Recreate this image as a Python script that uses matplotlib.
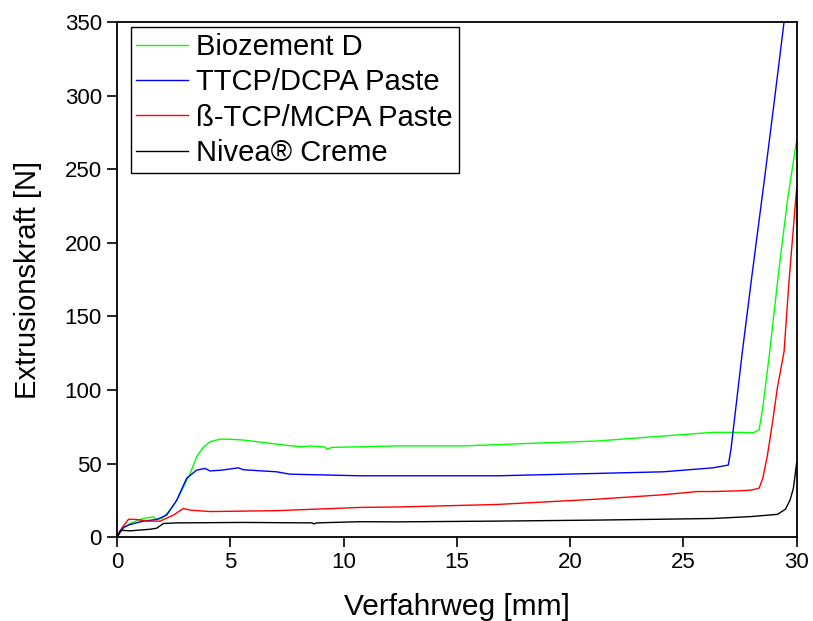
import matplotlib
matplotlib.use('Agg')
import matplotlib.pyplot as plt

plt.rcParams['font.family'] = ['Liberation Sans', 'DejaVu Sans']

# Biozement D
green_x = [0, 0.28, 0.57, 1.16, 1.6, 1.75, 2.0, 2.34, 2.63, 2.93, 3.22, 3.51, 3.8, 4.1, 4.54, 5.0,
           5.57, 7.04, 8.07, 8.51, 9.2, 9.25, 9.32, 9.5, 10.72, 12.35, 15.3, 18.2, 21.17, 24.1,
           26.3, 27.5, 28.1, 28.34, 28.5, 28.8, 29.2, 29.6, 30.0]
green_y = [1.6, 6, 9.3, 12.7, 13.8, 12, 13, 18.4, 25, 34, 43, 54.6, 61, 64.8, 66.6, 66.5,
           66, 63.2, 61.4, 61.9, 61.2, 59.6, 60.2, 61, 61.4, 62, 62, 63.7, 65.3, 68.7,
           71.2, 71.2, 71, 73, 88, 125, 180, 230, 270]

# TTCP/DCPA Paste
blue_x = [0, 0.28, 0.57, 1.16, 1.75, 2.19, 2.63, 3.07, 3.51, 3.88, 4.1, 4.6, 5.35, 5.57, 7.04,
          7.63, 10.72, 12.35, 16.8, 21.17, 24.1, 26.3, 26.98, 27.1, 27.6, 28.0, 28.59, 29.0,
          29.44, 29.5]
blue_y = [0, 6.6, 8.6, 10.9, 12, 15, 25, 40, 45.5, 46.7, 45, 45.5, 47.1, 45.8, 44.4,
          42.8, 41.7, 41.7, 41.7, 43.3, 44.4, 47.1, 49, 60, 126, 175, 245, 295,
          350, 357]

# ß-TCP/MCPA Paste
red_x = [0, 0.2, 0.51, 0.88, 1.32, 1.9, 2.49, 2.93, 3.22, 4.1, 7.04, 10.72, 12.35, 16.76,
         21.17, 24.1, 25.6, 26.3, 27.5, 28.0, 28.34, 28.5, 28.7, 28.93, 29.15, 29.44, 29.66, 30.0]
red_y = [0, 6, 12.2, 12, 10.9, 10.9, 15, 19.5, 18.4, 17.4, 18, 20.2, 20.5, 22.2,
         25.8, 28.8, 31, 31, 31.5, 32, 33.3, 40, 55, 78, 102, 126, 174, 238]

# Nivea Creme
black_x = [0, 0.15, 0.57, 1.47, 1.75, 2.05, 2.63, 5.57, 8.6, 8.7, 8.8, 10.72, 12.35, 16.76,
           21.17, 24.1, 26.3, 28.0, 29.15, 29.5, 29.7, 29.85, 30.0]
black_y = [0, 4.7, 4.3, 5.4, 6.1, 9.3, 9.7, 10, 9.7, 9.0, 9.7, 10.5, 10.4, 10.9,
           11.6, 12.2, 12.7, 14, 15.5, 19, 25, 33, 51]

fig = plt.figure(figsize=(8.13, 6.21), dpi=100)
ax = fig.add_axes([0.144, 0.135, 0.836, 0.8296])

ax.plot(green_x, green_y, color='#00ff00', lw=1, label='Biozement D')
ax.plot(blue_x, blue_y, color='#0000ff', lw=1, label='TTCP/DCPA Paste')
ax.plot(red_x, red_y, color='#ff0000', lw=1, label='ß-TCP/MCPA Paste')
ax.plot(black_x, black_y, color='black', lw=1, label='Nivea® Creme')

ax.set_xlim(0, 30)
ax.set_ylim(0, 350)
ax.set_xticks([0, 5, 10, 15, 20, 25, 30])
ax.set_yticks([0, 50, 100, 150, 200, 250, 300, 350])
ax.tick_params(direction='out', length=7, width=1.2, labelsize=16, pad=4)
for s in ax.spines.values():
    s.set_linewidth(1.3)

ax.set_xlabel('Verfahrweg [mm]', fontsize=21.5, labelpad=14)
ax.set_ylabel('Extrusionskraft [N]', fontsize=21, labelpad=16)

leg = ax.legend(loc='upper left', bbox_to_anchor=(0.02, 0.99), fontsize=21,
                frameon=True, fancybox=False, edgecolor='black', framealpha=1,
                handlelength=1.75, handletextpad=0.3, labelspacing=0.25,
                borderpad=0.2, borderaxespad=0)
leg.get_frame().set_linewidth(1.0)

plt.savefig('out.png', dpi=100)
